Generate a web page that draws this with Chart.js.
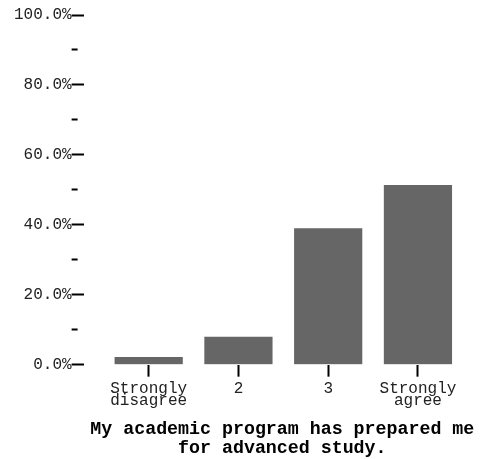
<!DOCTYPE html>
<html>
<head>
<meta charset="utf-8">
<script src="https://cdn.jsdelivr.net/npm/chart.js@4/dist/chart.umd.min.js"></script>
<style>
html, body { margin: 0; padding: 0; background: #fff; }
#wrap { width: 481px; height: 459px; position: relative; }
</style>
</head>
<body>
<div id="wrap"><canvas id="c"></canvas></div>
<script>
const categories = ['Strongly disagree', '2', '3', 'Strongly agree'];
const categoryPositions = [1, 2, 3, 4];
const percentValues = [2.2, 8.0, 39.0, 51.4];
const yTickValues = [0, 10, 20, 30, 40, 50, 60, 70, 80, 90, 100];
const labeledYTicks = [0, 20, 40, 60, 80, 100];
const axisTitle = ['My academic program has prepared me', 'for advanced study.'];

const FONT = '"Courier New", "Liberation Mono", monospace';

new Chart(document.getElementById('c'), {
  type: 'bar',
  data: {
    datasets: [{
      data: categoryPositions.map((x, i) => ({ x: x, y: percentValues[i] })),
      backgroundColor: '#666666',
      borderWidth: 0,
      barPercentage: 0.76,
      categoryPercentage: 1.0
    }]
  },
  options: {
    responsive: true,
    maintainAspectRatio: false,
    animation: false,
    layout: { padding: { left: 14, right: 0, top: 15, bottom: 0.5 } },
    plugins: { legend: { display: false }, tooltip: { enabled: false } },
    scales: {
      x: {
        type: 'linear',
        offset: false,
        min: 0.2751,
        max: 4.7025,
        afterBuildTicks: (s) => { s.ticks = categoryPositions.map(v => ({ value: v })); },
        border: { display: false },
        grid: {
          display: true, offset: false, drawOnChartArea: false, drawTicks: true,
          tickLength: 12, tickWidth: 2, tickColor: '#000'
        },
        ticks: {
          autoSkip: false, maxRotation: 0, minRotation: 0, padding: 6,
          color: '#222',
          font: { family: FONT, size: 16, lineHeight: 0.75 },
          callback: (v, i) => {
            const idx = categoryPositions.indexOf(v);
            const lbl = categories[idx];
            return lbl === undefined ? '' : (lbl.indexOf(' ') >= 0 ? lbl.split(' ') : lbl);
          }
        },
        title: {
          display: true, text: axisTitle, color: '#000',
          font: { family: FONT, size: 18.3, weight: 'bold', lineHeight: 1.05 },
          padding: { top: 7.4, bottom: 0 }
        }
      },
      y: {
        min: 0, max: 100,
        afterBuildTicks: (s) => { s.ticks = yTickValues.map(v => ({ value: v })); },
        border: { display: false },
        grid: {
          display: true, drawOnChartArea: false, drawTicks: true,
          tickLength: 12, tickWidth: 2, tickColor: '#000',
          tickBorderDash: (ctx) => (ctx.tick && labeledYTicks.indexOf(ctx.tick.value) < 0) ? [6, 30] : []
        },
        ticks: {
          padding: 0, color: '#222',
          font: { family: FONT, size: 16, lineHeight: 1.2 },
          callback: (v) => labeledYTicks.indexOf(v) >= 0 ? v.toFixed(1) + '%' : ''
        }
      }
    }
  }
});
</script>
</body>
</html>
